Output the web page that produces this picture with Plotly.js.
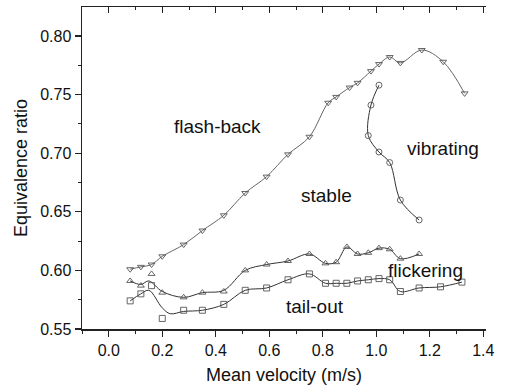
<!DOCTYPE html>
<html>
<head>
<meta charset="utf-8">
<script src="https://cdn.plot.ly/plotly-3.0.1.min.js"></script>
<style>
html,body{margin:0;padding:0;background:#fff;}
#chart{width:507px;height:391px;}
</style>
</head>
<body>
<div id="chart"></div>
<script>
// Flash-back boundary (down triangles)
var flashX = [0.08,0.12,0.16,0.20,0.28,0.35,0.43,0.51,0.59,0.67,0.75,0.82,0.85,0.90,0.93,0.98,1.01,1.05,1.09,1.17,1.25,1.33];
var flashY = [0.601,0.603,0.605,0.612,0.622,0.634,0.647,0.666,0.680,0.699,0.714,0.743,0.748,0.756,0.760,0.770,0.776,0.782,0.777,0.788,0.778,0.751];

// Vibrating boundary (circles)
var vibX = [1.01,0.98,0.97,1.01,1.05,1.09,1.16];
var vibY = [0.758,0.741,0.715,0.701,0.692,0.660,0.643];

// Flickering boundary (up triangles): measured points and the drawn smooth curve
var flickX = [0.08,0.12,0.16,0.20,0.28,0.35,0.43,0.51,0.59,0.67,0.75,0.81,0.85,0.89,0.93,0.97,1.01,1.05,1.09,1.16];
var flickY = [0.591,0.587,0.597,0.581,0.577,0.581,0.582,0.600,0.605,0.608,0.614,0.606,0.607,0.620,0.614,0.615,0.619,0.618,0.610,0.614];
var flickCurveX = [0.08,0.12,0.15,0.20,0.28,0.35,0.43,0.51,0.59,0.67,0.75,0.81,0.85,0.89,0.93,0.97,1.01,1.05,1.09,1.16];
var flickCurveY = [0.591,0.588,0.591,0.582,0.577,0.581,0.583,0.600,0.605,0.608,0.614,0.606,0.607,0.620,0.614,0.615,0.619,0.618,0.610,0.614];

// Tail-out boundary (squares): measured points and the drawn smooth curve
var tailX = [0.08,0.12,0.16,0.20,0.28,0.35,0.43,0.51,0.59,0.67,0.75,0.81,0.85,0.89,0.93,0.97,1.01,1.05,1.09,1.16,1.24,1.32];
var tailY = [0.574,0.580,0.587,0.559,0.566,0.566,0.571,0.583,0.585,0.592,0.597,0.589,0.589,0.589,0.591,0.592,0.593,0.592,0.582,0.585,0.586,0.590];
var tailCurveX = [0.08,0.12,0.15,0.20,0.23,0.28,0.35,0.43,0.51,0.59,0.67,0.75,0.81,0.85,0.89,0.93,0.97,1.01,1.05,1.09,1.16,1.24,1.32];
var tailCurveY = [0.574,0.580,0.583,0.568,0.563,0.565,0.566,0.571,0.583,0.585,0.592,0.597,0.589,0.589,0.589,0.591,0.592,0.593,0.592,0.582,0.585,0.586,0.590];

// Axis ticks
var xTickVals = [0.0,0.2,0.4,0.6,0.8,1.0,1.2,1.4];
var xTickText = ['0.0','0.2','0.4','0.6','0.8','1.0','1.2','1.4'];
var yTickVals = [0.55,0.60,0.65,0.70,0.75,0.80];
var yTickText = ['0.55','0.60','0.65','0.70','0.75','0.80'];

// Region labels
var regionNames = ['flash-back','vibrating','stable','flickering','tail-out'];
var regionX = [0.405,1.248,0.812,1.182,0.769];
var regionY = [0.723,0.704,0.664,0.600,0.569];

var FONT = 'Liberation Sans, Arial, Helvetica, sans-serif';
var lineCol = '#333';
var mkCol = '#555';

function markers(x, y, sym) {
  return {x:x, y:y, type:'scatter', mode:'markers', hoverinfo:'skip', showlegend:false,
    marker:{symbol:sym, size:6, color:mkCol, line:{width:0.9, color:mkCol}}};
}
function curve(x, y, col, w) {
  return {x:x, y:y, type:'scatter', mode:'lines', hoverinfo:'skip', showlegend:false,
    line:{shape:'spline', smoothing:1, color:col, width:w}};
}

var traces = [
  curve(flashX, flashY, '#555', 0.9),
  markers(flashX, flashY, 'triangle-down-open'),
  curve(vibX, vibY, lineCol, 1),
  markers(vibX, vibY, 'circle-open'),
  curve(flickCurveX, flickCurveY, lineCol, 1),
  markers(flickX, flickY, 'triangle-up-open'),
  curve(tailCurveX, tailCurveY, lineCol, 1),
  markers(tailX, tailY, 'square-open'),
  {x:[], y:[], xaxis:'x2', yaxis:'y', type:'scatter', mode:'markers', showlegend:false, hoverinfo:'skip'}
];

var annotations = regionNames.map(function(t, i){
  return {text:t, x:regionX[i], y:regionY[i], xref:'x', yref:'y', showarrow:false,
    xanchor:'center', yanchor:'middle', font:{family:FONT, size:19, color:'#111'}};
});

var axisCol = '#222';
var layout = {
  width:507, height:391,
  margin:{l:82, r:21, t:7, b:62},
  paper_bgcolor:'#fff', plot_bgcolor:'#fff',
  showlegend:false,
  font:{family:FONT, color:'#111'},
  xaxis:{
    range:[-0.1,1.41], showline:true, linecolor:axisCol, linewidth:1.5,
    ticks:'outside', ticklen:6, tickwidth:1.2, tickcolor:axisCol,
    tickmode:'array', tickvals:xTickVals, ticktext:xTickText,
    minor:{dtick:0.1, tick0:0, ticks:'outside', ticklen:3, tickwidth:1, tickcolor:axisCol, showgrid:false},
    showgrid:false, zeroline:false,
    tickfont:{family:FONT, size:16, color:'#111'},
    title:{text:'Mean velocity (m/s)', font:{family:FONT, size:18, color:'#111'}, standoff:10}
  },
  xaxis2:{
    overlaying:'x', side:'top', anchor:'y',
    range:[-0.1,1.41], showline:true, linecolor:axisCol, linewidth:1.5,
    ticks:'inside', ticklen:6, tickwidth:1.2, tickcolor:axisCol,
    tickmode:'array', tickvals:xTickVals, showticklabels:false,
    minor:{dtick:0.1, tick0:0, ticks:'inside', ticklen:3, tickwidth:1, tickcolor:axisCol, showgrid:false},
    showgrid:false, zeroline:false
  },
  yaxis:{
    range:[0.55,0.8247], showline:true, linecolor:axisCol, linewidth:1.5,
    ticks:'outside', ticklen:6, tickwidth:1.2, tickcolor:axisCol,
    tickmode:'array', tickvals:yTickVals, ticktext:yTickText,
    minor:{dtick:0.025, tick0:0.55, ticks:'outside', ticklen:3, tickwidth:1, tickcolor:axisCol, showgrid:false},
    showgrid:false, zeroline:false,
    tickfont:{family:FONT, size:16, color:'#111'},
    title:{text:'Equivalence ratio', font:{family:FONT, size:18, color:'#111'}, standoff:8}
  },
  annotations:annotations
};

Plotly.newPlot('chart', traces, layout, {staticPlot:true, displayModeBar:false});
</script>
</body>
</html>
